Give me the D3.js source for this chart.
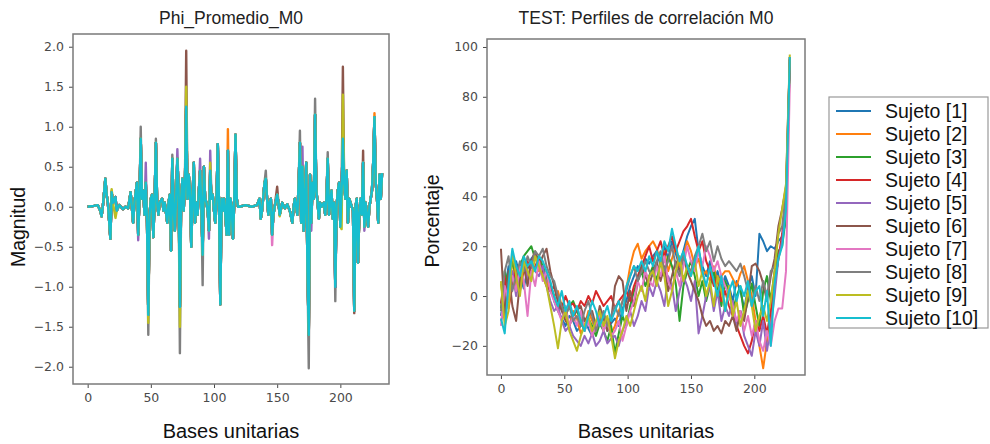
<!DOCTYPE html>
<html>
<head>
<meta charset="utf-8">
<script src="https://cdn.jsdelivr.net/npm/d3@7"></script>
<style>
  body { margin: 0; background: #fff; }
  svg { display: block; }
</style>
</head>
<body>
<div id="chart"></div>
<script>
const subjects = ["Sujeto [1]", "Sujeto [2]", "Sujeto [3]", "Sujeto [4]", "Sujeto [5]",
                  "Sujeto [6]", "Sujeto [7]", "Sujeto [8]", "Sujeto [9]", "Sujeto [10]"]

const phiTicksX = [0, 50, 100, 150, 200]
const phiTicksY = [-2, -1.5, -1, -0.5, 0, 0.5, 1, 1.5, 2]
const corrTicksX = [0, 50, 100, 150, 200]
const corrTicksY = [-20, 0, 20, 40, 60, 80, 100]

// Phi_Promedio_M0: shared shape (what Sujeto [10] shows on top), [base, value]
const phiBase = [
  [0, 0], [5, 0.01], [8, 0.02], [10, -0.05], [11, -0.12], [12, 0], [14, 0.35], [15, 0.15], [16, 0.05],
  [18, -0.4], [19, 0.18], [20, 0.05], [22, 0.12], [23, -0.05], [25, 0.02], [28, -0.03], [30, 0],
  [32, -0.02], [34, 0.18], [36, -0.2], [37, 0.05], [39, 0.3], [40, -0.35], [41, 0.1], [42, 0.85],
  [43, 0.1], [44, 0.2], [45, -0.1], [46, 0.3], [47, -0.2], [48, -1.35], [49, -0.1], [50, 0.1],
  [51, 0.15], [52, -0.38], [53, 0.1], [54, 0.8], [55, 0.05], [56, -0.1], [57, 0.05], [59, 0.1],
  [60, -0.05], [61, 0.05], [63, -0.2], [64, 0.05], [65, 0.15], [66, -0.55], [67, 0.6], [68, 0],
  [69, -0.3], [70, 0.1], [71, 0.6], [72, 0.2], [73, -1.25], [74, 0.1], [75, 0.35], [76, -0.05],
  [77, 0.3], [78, 1.25], [79, 0.1], [80, 0.4], [81, 0.2], [82, -0.5], [83, 0.1], [84, 0.55],
  [85, -0.2], [86, 0.05], [87, -0.1], [88, 0.2], [89, 0.45], [90, 0], [91, -0.6], [92, 0.5],
  [93, 0.1], [94, 0.05], [95, -0.05], [96, -0.3], [97, 0.45], [98, 0.1], [99, 0.15], [100, -0.05],
  [101, -0.2], [102, 0.1], [103, 0.78], [104, 0], [105, -1.22], [106, 0.1], [107, -0.05], [108, 0.1],
  [109, -0.1], [110, -0.35], [111, 0.7], [112, -0.35], [113, 0.1], [114, 0], [115, -0.4], [116, 0.05],
  [117, 0.9], [118, 0.1], [119, 0], [120, 0], [125, 0.02], [130, 0], [134, 0.02], [136, 0.1],
  [137, -0.15], [138, -0.05], [140, 0.3], [141, 0.35], [142, 0.1], [143, -0.1], [144, 0.05], [145, 0.1],
  [146, -0.35], [147, -0.1], [148, 0], [150, 0.15], [151, 0.05], [152, -0.1], [154, 0.05], [156, -0.02],
  [158, 0.03], [160, -0.05], [162, -0.2], [163, 0], [164, 0.1], [166, -0.1], [167, 0.3], [168, 0.8],
  [169, -0.2], [170, 0.5], [171, -0.3], [172, 0.1], [173, 0.55], [174, -0.8], [175, -1.6], [176, 0.4],
  [177, -0.2], [178, 0.3], [179, 0.1], [180, 1.15], [181, 0.2], [182, 0.05], [183, -0.15], [184, 0.05],
  [185, 0], [187, 0.05], [188, -0.1], [189, 0.1], [190, 0.6], [191, -0.1], [192, 0.05], [193, 0.2],
  [194, -0.15], [195, 0.05], [196, -1.0], [197, 0], [198, 0.2], [199, 0.3], [200, -0.25], [201, 0.2],
  [202, 0.85], [203, 0.3], [204, 0.1], [205, 0.45], [206, -0.2], [207, 0.1], [208, 0.05], [209, 0],
  [210, -0.05], [211, -1.3], [212, 0], [213, 0.1], [214, -0.7], [215, -0.1], [216, 0.1], [217, -0.1],
  [218, 0.55], [219, -0.25], [220, 0.05], [221, -0.1], [222, -0.25], [223, 0], [224, 0.1], [225, 0.2],
  [226, 0.55], [227, 1.12], [228, 0.3], [229, 0.1], [230, -0.2], [231, 0.4], [232, 0.1], [233, 0.42]
]

// where another subject pokes out past Sujeto [10]: [subject index, base, value]
const phiTips = [
  [8, 19, 0.22], [1, 19, 0.2], [8, 22, -0.14], [4, 40, -0.42], [7, 42, 1.0], [4, 46, 0.55],
  [7, 48, -1.6], [8, 48, -1.45], [7, 54, 0.85], [7, 67, 0.65], [4, 71, 0.72], [7, 73, -1.83],
  [8, 73, -1.5], [5, 78, 1.95], [8, 78, 1.5], [4, 89, 0.6], [7, 91, -0.98], [4, 96, -0.4],
  [4, 97, 0.7], [8, 97, 0.55], [1, 111, 0.97], [7, 141, 0.45], [6, 146, -0.48], [5, 150, 0.25],
  [8, 152, -0.12], [7, 168, 0.95], [4, 170, 0.75], [4, 177, -0.3], [7, 175, -2.02], [7, 180, 1.35],
  [7, 190, 0.68], [7, 196, -1.18], [8, 196, -0.9], [8, 201, -0.28], [5, 202, 1.75], [8, 202, 1.4],
  [5, 211, -1.33], [5, 218, 0.7], [4, 219, -0.3], [1, 227, 1.17]
]

// TEST: Perfiles de correlación M0, one value every 3 bases (0, 3, ... 228)
const corrStep = 3
const corr1 = [-8, 2, 12, 6, 14, 8, 3, 11, 15, 17, 14, 10, 8, 4, -2, -6, -9, -12, -8, -10,
  -14, -12, -9, -13, -16, -10, -12, -8, -14, -11, -9, -12, -5, -2, 4, 8, 12, 10, 15, 13,
  16, 18, 12, 20, 15, 22, 17, 12, 18, 24, 28, 31, 18, 12, 8, 14, 5, 10, 3, 8,
  4, -2, 6, 2, -5, 3, 8, 0, 25, 22, 18, 20, 19, 22, 24, 30, 95]
const corr2 = [5, -6, 8, 14, 4, 10, 12, 7, 13, 16, 10, 12, 6, 2, 0, 2, -4, -8, -12, -6,
  -9, -15, -12, -6, -10, -14, -7, -12, -9, -15, -12, -6, -2, 3, 12, 18, 21, 15, 18, 20,
  22, 19, 14, 18, 10, 15, 20, 12, 16, 22, 18, 12, 15, 8, 10, 6, 12, 5, 8, 10,
  10, 7, 4, 9, 12, 6, 0, -10, -20, -29, -18, -8, 5, 15, 22, 35, 93]
const corr3 = [-5, 10, 4, 14, 8, 12, 16, 18, 20, 15, 16, 12, 8, 4, 0, -6, -3, -8, -4, -2,
  -6, -10, -14, -9, -12, -16, -11, -14, -18, -12, -23, -15, -8, -12, -4, 2, 6, 10, 4, 8,
  12, 6, 14, 8, 16, 12, 5, -10, 4, 10, 14, 8, 0, 6, -2, 4, 10, 2, -4, 6,
  2, -6, 0, 4, -8, -2, 5, -4, -12, 2, 8, -2, 10, 18, 20, 32, 96]
const corr4 = [-3, 8, -5, 4, 12, 2, 10, 14, 9, 12, 15, 8, 4, 2, 4, -2, -5, 0, -4, -3,
  -6, -2, -4, 0, -3, 2, -1, -4, -2, 0, -5, -2, 0, 2, -2, 4, 8, 12, 16, 20,
  14, 18, 22, 16, 20, 24, 18, 22, 26, 28, 31, 24, 18, 22, 14, 10, 4, 8, -2, 2,
  -4, -8, -12, -16, -20, -23, -18, -10, -14, -8, -15, -6, 5, 15, 25, 40, 95]
const corr5 = [-10, -6, 4, 10, 0, 8, 14, 6, 12, 10, 8, 12, 4, -2, -6, -4, -10, -14, -12, -16,
  -18, -20, -16, -19, -15, -20, -18, -14, -19, -17, -16, -20, -14, -10, -6, -12, -8, -2, -6, 4,
  0, 6, 2, -4, 8, 4, -6, 2, 8, 4, -2, 6, -15, -8, 0, 4, -6, 2, -10, -4,
  -8, -2, -12, -6, -16, -20, -24, -14, -20, -10, -22, -12, 0, 15, 22, 38, 96]
const corr6 = [19, -8, 10, -4, -10, 6, 12, 4, 14, 18, 12, 16, 19, 10, 4, -2, -6, -10, -12, -8,
  -6, -4, -10, -8, -6, -12, -4, -9, -14, -10, 4, 8, 6, -6, 2, -4, 6, 12, 8, 4,
  10, 14, 6, 12, 2, 8, 14, 10, 16, 10, 6, 2, -2, -8, -12, -10, -14, -12, -15, -10,
  -12, -8, -14, -6, -10, 0, 12, 13, 10, 5, -2, 8, 15, 28, 35, 44, 96]
const corr7 = [-12, 4, -2, 8, 2, 12, 6, -8, 10, 4, 14, 6, 10, 2, -2, -6, -10, -4, -12, -8,
  -12, -6, -14, -10, -16, -12, -8, -14, -10, -16, -14, -10, -18, -12, -6, -2, 6, 2, 10, 6,
  4, 12, 8, 16, 6, 2, 10, 4, 12, 20, 14, 10, 18, 12, 20, 16, 10, 14, 8, 4,
  0, -4, -10, -6, -14, -8, -16, -10, -18, -22, -14, -20, -10, -5, -5, 10, 85]
const corr8 = [-6, 10, 16, 2, 8, 14, 10, 16, 12, 18, 16, 19, 12, 8, 6, 0, -4, -8, -4, -10,
  -8, -12, -6, -2, -8, -14, -10, -6, -12, -8, -4, -8, -2, 2, 8, 12, 6, 10, 14, 10,
  8, 14, 18, 10, 14, 20, 12, 8, 16, 12, 10, 16, 20, 25, 18, 22, 14, 20, 15, 12,
  14, 12, 10, 13, 8, 2, -4, 4, -2, 6, 0, 10, 12, 25, 28, 42, 95]
const corr9 = [6, -12, -6, 18, 8, 0, 14, 10, 6, 16, 12, 8, 4, -4, -12, -21, -10, -6, -14, -18,
  -22, -16, -12, -8, -14, -10, -6, -12, -8, -16, -25, -18, -14, -8, -12, -6, 0, 4, -2, 8,
  10, 4, 14, 8, -4, 2, 10, 16, 6, 12, 8, 14, 4, 10, 0, 6, -4, 8, 2, -6,
  4, -8, -2, -12, -6, 2, -4, -14, -8, -4, -10, -2, 10, 25, 35, 45, 97]
const corr10 = [-9, -15, 5, 19, 12, 8, 16, 12, 14, 10, 16, 14, 10, 6, 0, -4, 2, -6, -2, -8,
  -4, -10, -14, -8, -2, -6, -12, -8, -4, -10, -6, -2, -8, 4, 8, 12, 10, 14, 10, 16,
  12, 18, 14, 22, 18, 27, 20, 14, 18, 12, 8, 14, 20, 10, 4, 12, 6, 0, 8, -6,
  2, 6, -2, 4, 0, 6, -4, 2, 4, -8, 2, -20, 5, 15, 20, 35, 96]
const corrSeries = [corr1, corr2, corr3, corr4, corr5, corr6, corr7, corr8, corr9, corr10]

const WIDTH = 990
const HEIGHT = 444
const colors = d3.schemeCategory10
const TICK_COLOR = "#4a4a4a"
const SPINE_COLOR = "#7a7a7a"
const FONT = "Liberation Sans, Arial, sans-serif"

const svg = d3.select("#chart")
  .append("svg")
  .attr("width", WIDTH)
  .attr("height", HEIGHT)

function drawPanel(box, x, y, ticksX, ticksY, fmtY, title, yLabel, yLabelPos) {
  let g = svg.append("g")

  let xAxis = g.append("g")
    .attr("transform", `translate(0,${box.y1})`)
    .call(d3.axisBottom(x).tickValues(ticksX).tickSize(4).tickPadding(5).tickFormat(d3.format("d")))
  let yAxis = g.append("g")
    .attr("transform", `translate(${box.x0},0)`)
    .call(d3.axisLeft(y).tickValues(ticksY).tickSize(4).tickPadding(5).tickFormat(fmtY))

  ;[xAxis, yAxis].forEach(a => {
    a.select(".domain").remove()
    a.selectAll(".tick line").attr("stroke", TICK_COLOR)
    a.selectAll(".tick text")
      .attr("fill", TICK_COLOR)
      .attr("font-family", "DejaVu Sans, sans-serif")
      .attr("font-size", 12.5)
  })

  g.append("text")
    .attr("x", (box.x0 + box.x1) / 2)
    .attr("y", 24)
    .attr("text-anchor", "middle")
    .attr("font-family", FONT)
    .attr("font-size", 17.5)
    .attr("fill", "#222")
    .text(title)

  g.append("text")
    .attr("x", (box.x0 + box.x1) / 2)
    .attr("y", 438)
    .attr("text-anchor", "middle")
    .attr("font-family", FONT)
    .attr("font-size", 20)
    .attr("fill", "#111")
    .text("Bases unitarias")

  g.append("text")
    .attr("transform", `translate(${yLabelPos[0]},${yLabelPos[1]}) rotate(-90)`)
    .attr("text-anchor", "middle")
    .attr("font-family", FONT)
    .attr("font-size", 19.5)
    .attr("fill", "#111")
    .text(yLabel)

  return g
}

function drawFrame(g, box) {
  g.append("rect")
    .attr("x", box.x0).attr("y", box.y0)
    .attr("width", box.x1 - box.x0).attr("height", box.y1 - box.y0)
    .attr("fill", "none")
    .attr("stroke", SPINE_COLOR)
    .attr("stroke-width", 1.5)
}

// left panel
const phiBox = { x0: 73, x1: 389, y0: 34, y1: 384 }
const xPhi = d3.scaleLinear().domain([-11.6, 238.5]).range([phiBox.x0, phiBox.x1])
const yPhi = d3.scaleLinear().domain([-2.216, 2.159]).range([phiBox.y1, phiBox.y0])

const gPhi = drawPanel(phiBox, xPhi, yPhi, phiTicksX, phiTicksY, d3.format(".1f"),
  "Phi_Promedio_M0", "Magnitud", [25, 227])

let tipMap = new Map()
phiTips.forEach(([s, b, v]) => tipMap.set(s + "_" + b, v))

let phiLine = d3.line()
  .x(d => xPhi(d[0]))
  .y(d => yPhi(d[1]))

subjects.forEach((name, s) => {
  let pts = phiBase.map(([b, v]) => {
    let key = s + "_" + b
    return [b, tipMap.has(key) ? tipMap.get(key) : v]
  })
  gPhi.append("path")
    .datum(pts)
    .attr("d", phiLine)
    .attr("fill", "none")
    .attr("stroke", colors[s])
    .attr("stroke-width", 2.4)
    .attr("stroke-linejoin", "round")
})
drawFrame(gPhi, phiBox)

// right panel
const corrBox = { x0: 487, x1: 805, y0: 39, y1: 375 }
const xCorr = d3.scaleLinear().domain([-11, 240]).range([corrBox.x0, corrBox.x1])
const yCorr = d3.scaleLinear().domain([-31.7, 103.2]).range([corrBox.y1, corrBox.y0])

const gCorr = drawPanel(corrBox, xCorr, yCorr, corrTicksX, corrTicksY, d3.format("d"),
  "TEST: Perfiles de correlación M0", "Porcentaje", [439, 221])

let corrLine = d3.line()
  .x((d, i) => xCorr(i * corrStep))
  .y(d => yCorr(d))

corrSeries.forEach((vals, s) => {
  gCorr.append("path")
    .datum(vals)
    .attr("d", corrLine)
    .attr("fill", "none")
    .attr("stroke", colors[s])
    .attr("stroke-width", 2)
    .attr("stroke-linejoin", "round")
})
drawFrame(gCorr, corrBox)

// legend
const legend = svg.append("g")
legend.append("rect")
  .attr("x", 829).attr("y", 97)
  .attr("width", 159).attr("height", 231)
  .attr("fill", "#fff")
  .attr("stroke", "#999")
  .attr("stroke-width", 1.2)

subjects.forEach((name, s) => {
  let cy = 111 + s * 23
  legend.append("line")
    .attr("x1", 836).attr("x2", 871)
    .attr("y1", cy).attr("y2", cy)
    .attr("stroke", colors[s])
    .attr("stroke-width", 2)
  legend.append("text")
    .attr("x", 885)
    .attr("y", cy)
    .attr("dy", "0.36em")
    .attr("font-family", FONT)
    .attr("font-size", 19.5)
    .attr("fill", "#111")
    .text(name)
})
</script>
</body>
</html>
